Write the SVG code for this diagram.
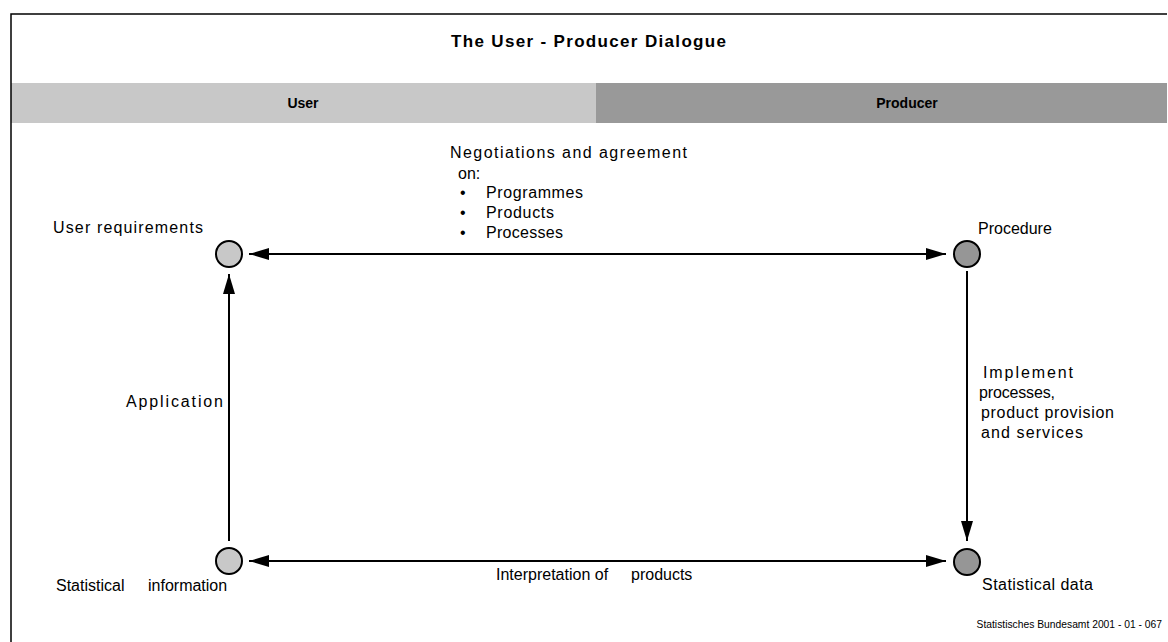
<svg xmlns="http://www.w3.org/2000/svg" width="1168" height="642" viewBox="0 0 1168 642">
  <style>
    text { font-family: "Liberation Sans", Arial, sans-serif; fill: #000; }
    .label { font-size: 16px; }
    .head { font-size: 14px; font-weight: bold; }
    .title { font-size: 17px; font-weight: bold; }
    .foot { font-size: 10.3px; }
    .edge { stroke: #000; stroke-width: 2; fill: none; }
    .node-user { fill: #c8c8c8; stroke: #000; stroke-width: 2; }
    .node-prod { fill: #969696; stroke: #000; stroke-width: 2; }
  </style>
  <defs>
    <marker id="arrow" viewBox="0 0 20 12" refX="20" refY="6" markerWidth="20" markerHeight="12" markerUnits="userSpaceOnUse" orient="auto-start-reverse">
      <path d="M0,0 L20,6 L0,12 Z" fill="#000"/>
    </marker>
  </defs>

  <rect width="1168" height="642" fill="#fff"/>

  <!-- frame and header bands -->
  <rect x="596" y="83" width="571" height="40" fill="#999999"/>
  <rect x="11" y="83" width="585" height="40" fill="#c8c8c8"/>
  <path d="M11,642 V14 H1167" fill="none" stroke="#000" stroke-width="1.5"/>
  <text class="title" x="451" y="47" textLength="275" lengthAdjust="spacing">The User - Producer Dialogue</text>
  <text class="head" x="303" y="108" text-anchor="middle">User</text>
  <text class="head" x="907" y="108" text-anchor="middle">Producer</text>

  <!-- connectors -->
  <g id="connectors">
    <line class="edge" x1="249" y1="254" x2="946" y2="254" marker-start="url(#arrow)" marker-end="url(#arrow)"/>
    <line class="edge" x1="249" y1="561" x2="946" y2="561" marker-start="url(#arrow)" marker-end="url(#arrow)"/>
    <line class="edge" x1="229" y1="541" x2="229" y2="274" marker-end="url(#arrow)"/>
    <line class="edge" x1="967" y1="271" x2="967" y2="541" marker-end="url(#arrow)"/>
  </g>

  <!-- negotiation label -->
  <g id="label-negotiation" class="label">
    <text x="450" y="158" textLength="237" lengthAdjust="spacing">Negotiations and agreement</text>
    <text x="458" y="179">on:</text>
    <text x="460" y="198">•</text>
    <text x="486" y="198" textLength="97" lengthAdjust="spacing">Programmes</text>
    <text x="460" y="218">•</text>
    <text x="486" y="218" textLength="68" lengthAdjust="spacing">Products</text>
    <text x="460" y="238">•</text>
    <text x="486" y="238" textLength="77" lengthAdjust="spacing">Processes</text>
  </g>

  <g id="label-application">
    <text class="label" x="126" y="407" textLength="97" lengthAdjust="spacing">Application</text>
  </g>

  <g id="label-implement" class="label">
    <text x="983" y="378" textLength="90" lengthAdjust="spacing">Implement</text>
    <text x="979" y="398" textLength="76" lengthAdjust="spacing">processes,</text>
    <text x="981" y="418" textLength="133" lengthAdjust="spacing">product provision</text>
    <text x="981" y="438" textLength="102" lengthAdjust="spacing">and services</text>
  </g>

  <g id="label-interpretation">
    <text class="label" x="496" y="580"><tspan>Interpretation of</tspan><tspan x="631">products</tspan></text>
  </g>

  <!-- nodes -->
  <g id="node-user-requirements">
    <circle class="node-user" cx="229" cy="254" r="13"/>
    <text class="label" x="53" y="233" textLength="150" lengthAdjust="spacing">User requirements</text>
  </g>
  <g id="node-procedure">
    <circle class="node-prod" cx="967" cy="254" r="13"/>
    <text class="label" x="978" y="234">Procedure</text>
  </g>
  <g id="node-statistical-information">
    <circle class="node-user" cx="229" cy="561" r="13"/>
    <text class="label" x="56" y="591"><tspan>Statistical</tspan><tspan x="148">information</tspan></text>
  </g>
  <g id="node-statistical-data">
    <circle class="node-prod" cx="967" cy="562" r="13"/>
    <text class="label" x="982" y="590" textLength="111" lengthAdjust="spacing">Statistical data</text>
  </g>

  <text class="foot" x="1162" y="628" text-anchor="end">Statistisches Bundesamt 2001 - 01 - 067</text>
</svg>
